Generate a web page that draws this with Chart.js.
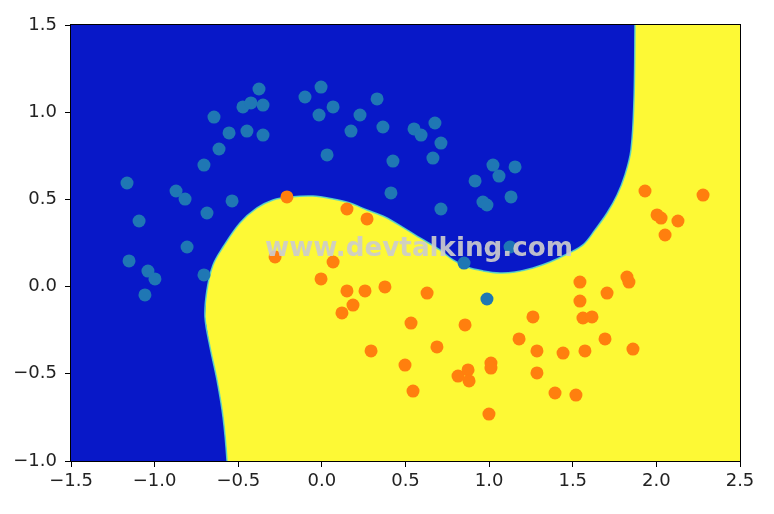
<!DOCTYPE html>
<html>
<head>
<meta charset="utf-8">
<script src="https://cdn.jsdelivr.net/npm/chart.js@4/dist/chart.umd.min.js"></script>
<style>
  html, body { margin: 0; padding: 0; background: #fff; }
  #wrap { width: 774px; height: 514px; }
</style>
</head>
<body>
<div id="wrap"><canvas id="moons" width="774" height="514"></canvas></div>
<script>
// tick labels
var xTicks = [-1.5, -1.0, -0.5, 0.0, 0.5, 1.0, 1.5, 2.0, 2.5];
var yTicks = [-1.0, -0.5, 0.0, 0.5, 1.0, 1.5];

// class 0 (blue points)
var class0X = [-0.376, -0.472, -0.424, -0.352, -0.645, -0.555, -0.448, -0.352, -0.615, -0.705,
  -1.165, -0.872, -0.818, -0.537, -0.687, -1.093, -0.806, -0.101, -0.005, 0.067,
  -0.017, 0.031, 0.228, 0.330, 0.174, 0.365, 0.551, 0.593, 0.676, 0.712,
  0.425, 0.664, 1.023, 1.155, 1.059, 0.916, 0.413, 0.712, 0.963, 0.987,
  1.131, -1.153, -1.040, -0.998, -1.058, -0.705, 0.850, 1.125, 0.987];
var class0Y = [1.133, 1.030, 1.053, 1.041, 0.972, 0.881, 0.892, 0.869, 0.789, 0.697,
  0.594, 0.548, 0.502, 0.491, 0.422, 0.376, 0.227, 1.087, 1.144, 1.030,
  0.984, 0.755, 0.984, 1.076, 0.892, 0.915, 0.904, 0.869, 0.938, 0.823,
  0.720, 0.737, 0.697, 0.686, 0.634, 0.606, 0.537, 0.445, 0.485, 0.468,
  0.514, 0.147, 0.089, 0.044, -0.048, 0.067, 0.135, 0.227, -0.071];

// class 1 (orange points)
var class1X = [-0.209, 0.150, 0.270, -0.280, 0.067, -0.005, 0.150, 0.258, 0.377, 0.629,
  0.186, 0.120, 0.533, 0.856, 1.262, 1.179, 0.294, 0.688, 1.286, 1.442,
  0.497, 0.814, 0.874, 0.880, 1.011, 1.011, 1.286, 0.545, 1.394, 1.519,
  0.999, 1.543, 1.543, 1.561, 1.615, 1.705, 1.824, 1.836, 1.693, 1.860,
  1.573, 1.932, 2.279, 2.004, 2.129, 2.052, 2.028];
var class1Y = [0.514, 0.445, 0.388, 0.170, 0.141, 0.044, -0.025, -0.025, -0.002, -0.037,
  -0.106, -0.151, -0.209, -0.220, -0.174, -0.300, -0.369, -0.346, -0.369, -0.381,
  -0.450, -0.513, -0.478, -0.541, -0.438, -0.467, -0.495, -0.599, -0.610, -0.622,
  -0.731, 0.026, -0.083, -0.180, -0.174, -0.037, 0.055, 0.026, -0.300, -0.358,
  -0.369, 0.548, 0.525, 0.411, 0.376, 0.296, 0.393];

// decision boundary, from the top edge down to the bottom edge
var boundaryX = [1.872, 1.872, 1.866, 1.848, 1.812, 1.765, 1.705, 1.633, 1.561, 1.466,
  1.364, 1.262, 1.155, 1.065, 0.963, 0.868, 0.784, 0.706, 0.587, 0.509,
  0.377, 0.270, 0.168, 0.067, -0.053, -0.191, -0.292, -0.388, -0.490, -0.591,
  -0.651, -0.687, -0.699, -0.669, -0.627, -0.591, -0.567, -0.560];
var boundaryY = [1.7, 1.5, 1.070, 0.783, 0.640, 0.525, 0.422, 0.325, 0.239, 0.187,
  0.141, 0.107, 0.084, 0.078, 0.090, 0.112, 0.153, 0.210, 0.279, 0.325,
  0.399, 0.439, 0.479, 0.502, 0.519, 0.514, 0.497, 0.451, 0.365, 0.227,
  0.124, -0.019, -0.174, -0.346, -0.536, -0.748, -1.0, -1.2];

var curveTension = 0.35;

function toPoints(xs, ys) {
  return xs.map(function(x, i) { return { x: x, y: ys[i] }; });
}

// yellow region: start at the leftmost boundary point and end far right,
// so the filler's x clip covers the whole shape
function yellowRegion() {
  var iL = 0;
  boundaryX.forEach(function(x, i) { if (x < boundaryX[iL]) iL = i; });
  var pts = [];
  for (var i = iL; i >= 0; i--) pts.push({ x: boundaryX[i], y: boundaryY[i] });
  pts.push({ x: 2.8, y: 1.7 });
  pts.push({ x: 2.8, y: -1.2 });
  for (var j = boundaryX.length - 1; j >= iL; j--) pts.push({ x: boundaryX[j], y: boundaryY[j] });
  // repeat the leftmost point so the closing run out to the right stays straight
  pts.push({ x: boundaryX[iL], y: boundaryY[iL] });
  pts.push({ x: 2.8, y: boundaryY[iL] });
  return pts;
}

function fmt(v) {
  return Number(v).toFixed(1).replace('-', '\u2212');
}

var background = {
  id: 'background',
  beforeDraw: function(chart) {
    var a = chart.chartArea, ctx = chart.ctx;
    ctx.save();
    ctx.fillStyle = '#0818c8';
    ctx.fillRect(a.left, a.top, a.right - a.left, a.bottom - a.top);
    ctx.restore();
  }
};

var frame = {
  id: 'frame',
  afterDatasetsDraw: function(chart) {
    var a = chart.chartArea, ctx = chart.ctx;
    ctx.save();
    // watermark
    var txt = 'www.devtalking.com';
    ctx.font = 'bold 30px "DejaVu Sans"';
    var size = 30 * 308 / ctx.measureText(txt).width;
    ctx.font = 'bold ' + size.toFixed(1) + 'px "DejaVu Sans"';
    ctx.fillStyle = 'rgba(204, 204, 204, 0.92)';
    ctx.textAlign = 'center';
    ctx.textBaseline = 'alphabetic';
    ctx.fillText(txt, 419, 256);
    // spines
    ctx.strokeStyle = '#000';
    ctx.lineWidth = 1;
    ctx.strokeRect(a.left - 0.5, a.top - 0.5, a.right - a.left + 1, a.bottom - a.top + 1);
    ctx.restore();
  }
};

var ctx = document.getElementById('moons').getContext('2d');
new Chart(ctx, {
  type: 'scatter',
  data: {
    datasets: [
      {
        type: 'line',
        data: yellowRegion(),
        backgroundColor: '#fdf935',
        borderColor: 'rgba(0,0,0,0)',
        borderWidth: 0,
        pointRadius: 0,
        tension: curveTension,
        fill: 'shape',
        order: 10
      },
      {
        type: 'line',
        data: toPoints(boundaryX, boundaryY),
        borderColor: 'rgba(90, 215, 200, 0.9)',
        borderWidth: 1.5,
        pointRadius: 0,
        tension: curveTension,
        fill: false,
        order: 9
      },
      {
        data: toPoints(class0X, class0Y),
        backgroundColor: '#1f77b4',
        borderWidth: 0,
        pointRadius: 6.5,
        order: 2
      },
      {
        data: toPoints(class1X, class1Y),
        backgroundColor: '#ff7f0e',
        borderWidth: 0,
        pointRadius: 6.5,
        order: 1
      }
    ]
  },
  options: {
    responsive: false,
    animation: false,
    layout: { padding: { top: 25, right: 34, left: 0, bottom: 0 } },
    plugins: { legend: { display: false }, tooltip: { enabled: false } },
    scales: {
      x: {
        type: 'linear',
        min: -1.5,
        max: 2.5,
        afterBuildTicks: function(scale) {
          scale.ticks = xTicks.map(function(v) { return { value: v }; });
        },
        afterFit: function(scale) { scale.height = 53; },
        border: { display: false },
        grid: { drawOnChartArea: false, drawTicks: true, tickLength: 6, color: '#000' },
        ticks: {
          callback: fmt,
          color: '#222',
          padding: 4,
          maxRotation: 0,
          font: { family: '"DejaVu Sans"', size: 18 }
        }
      },
      y: {
        type: 'linear',
        min: -1.0,
        max: 1.5,
        afterBuildTicks: function(scale) {
          scale.ticks = yTicks.map(function(v) { return { value: v }; });
        },
        afterFit: function(scale) { scale.width = 71; },
        border: { display: false },
        grid: { drawOnChartArea: false, drawTicks: true, tickLength: 6, color: '#000' },
        ticks: {
          callback: fmt,
          color: '#222',
          padding: 8,
          font: { family: '"DejaVu Sans"', size: 18 }
        }
      }
    }
  },
  plugins: [background, frame]
});
</script>
</body>
</html>
